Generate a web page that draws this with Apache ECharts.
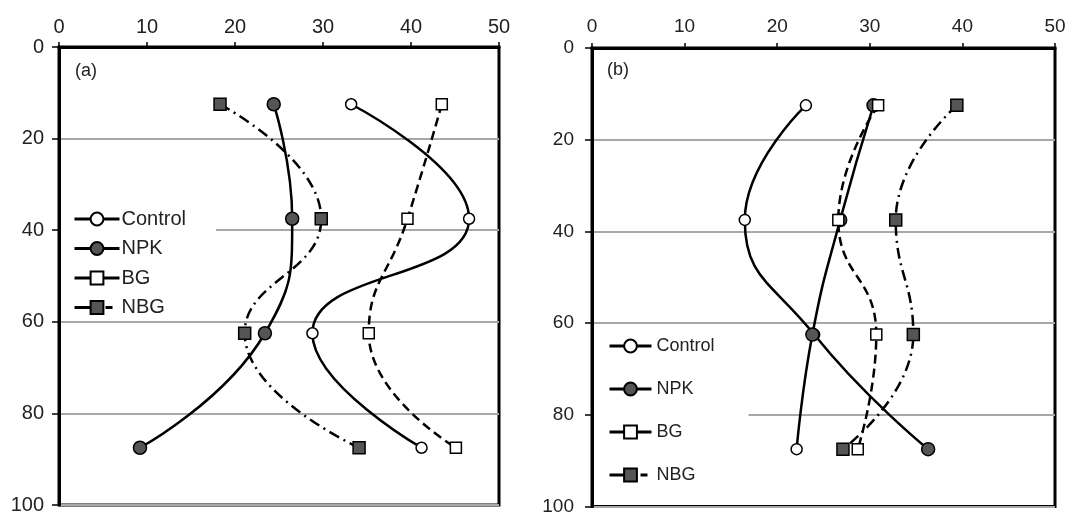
<!DOCTYPE html>
<html><head><meta charset="utf-8">
<script src="https://cdn.jsdelivr.net/npm/echarts@6/dist/echarts.min.js"></script>
<style>html,body{margin:0;padding:0;background:#fff}#c{width:1084px;height:516px}</style>
</head><body><div id="c"></div>
<script>
// depths (cm) and tick labels
const depths = [12.5, 37.5, 62.5, 87.5];
const xTicks = [0, 10, 20, 30, 40, 50];
const yTicks = [0, 20, 40, 60, 80, 100];
const seriesNames = ['Control', 'NPK', 'BG', 'NBG'];
// panel (a) values
const controlA = [33.2, 46.6, 28.8, 41.2];
const npkA     = [24.4, 26.5, 23.4, 9.2];
const bgA      = [43.5, 39.6, 35.2, 45.1];
const nbgA     = [18.3, 29.8, 21.1, 34.1];
// panel (b) values, in the order the drawn curves pass through them
const controlB = [23.1, 16.5, 24.0, 36.3];
const npkB     = [30.4, 26.8, 23.8, 22.1];
const bgB      = [30.9, 26.6, 30.7, 28.7];
const nbgB     = [39.4, 32.8, 34.7, 27.1];

const FONT = '"Liberation Sans", Arial, sans-serif';
const styles = {
  Control: {symbol: 'circle', size: 11, fill: '#fff', dash: 'solid', legendDash: 'solid'},
  NPK:     {symbol: 'circle', size: 13, fill: '#555', dash: 'solid', legendDash: 'solid'},
  BG:      {symbol: 'rect',   size: 11, fill: '#fff', dash: [9, 5], legendDash: 'solid'},
  NBG:     {symbol: 'rect',   size: 12, fill: '#555', dash: [11, 5, 2, 5], legendDash: [18, 13, 7, 20]}
};

function makeSeries(name, vals, idx, swapLast) {
  const st = styles[name];
  const data = vals.map((v, i) => {
    const item = {value: [v, depths[i]]};
    if (swapLast && i === vals.length - 1) {
      const other = styles[swapLast];
      item.itemStyle = {color: other.fill};
      item.symbolSize = other.size;
    }
    return item;
  });
  return {
    name: name, type: 'line', xAxisIndex: idx, yAxisIndex: idx,
    smooth: 0.5, data: data,
    symbol: st.symbol, symbolSize: st.size, showSymbol: true,
    lineStyle: {color: '#000', width: 2.5, type: st.dash},
    itemStyle: {color: st.fill, borderColor: '#000', borderWidth: 1.5},
    emphasis: {disabled: true}, z: 3
  };
}

function xAxis(idx, fs, margin) {
  return {
    type: 'value', gridIndex: idx, position: 'top', min: 0, max: 50, interval: 10,
    axisLine: {show: true, onZero: false, lineStyle: {color: '#000', width: 3}},
    axisTick: {show: true, length: 5, lineStyle: {color: '#000', width: 1.5}},
    axisLabel: {color: '#222', fontSize: fs, fontFamily: FONT, margin: margin,
      formatter: v => xTicks.includes(v) ? String(v) : ''},
    splitLine: {show: false}
  };
}
function yAxis(idx, fs, margin) {
  return {
    type: 'value', gridIndex: idx, inverse: true, min: 0, max: 100, interval: 20,
    axisLine: {show: true, onZero: false, lineStyle: {color: '#000', width: 3}},
    axisTick: {show: true, length: 7, lineStyle: {color: '#000', width: 1.5}},
    axisLabel: {color: '#222', fontSize: fs, fontFamily: FONT, margin: margin,
      formatter: v => yTicks.includes(v) ? String(v) : ''},
    splitLine: {show: true, lineStyle: {color: '#a8a8a8', width: 2}}
  };
}

function legendData() {
  return seriesNames.map(n => ({name: n, lineStyle: {type: styles[n].legendDash, width: 3}}));
}

const chart = echarts.init(document.getElementById('c'), null, {renderer: 'canvas'});
chart.setOption({
  backgroundColor: '#fff',
  animation: false,
  grid: [
    {left: 59, top: 47, width: 440, height: 458, show: true, borderColor: '#000', borderWidth: 3, backgroundColor: 'transparent'},
    {left: 592, top: 48, width: 463, height: 462, show: true, borderColor: '#000', borderWidth: 3, backgroundColor: 'transparent'}
  ],
  xAxis: [xAxis(0, 20, 10), xAxis(1, 19, 12)],
  yAxis: [yAxis(0, 20, 15), yAxis(1, 19, 18)],
  legend: [
    {data: legendData(), orient: 'vertical', left: 61, top: 207, itemGap: 9.5,
     itemWidth: 45, itemHeight: 16, padding: [2, 30, 0, 12],
     backgroundColor: '#fff', selectedMode: false,
     textStyle: {fontSize: 20, fontFamily: FONT, color: '#222', padding: [0, 0, 0, -3]}},
    {data: legendData(), orient: 'vertical', left: 594, top: 333, itemGap: 25,
     itemWidth: 42, itemHeight: 16, padding: [4, 34, 4, 14],
     backgroundColor: '#fff', selectedMode: false,
     textStyle: {fontSize: 18, fontFamily: FONT, color: '#222'}}
  ],
  graphic: [
    {type: 'text', left: 75, top: 62, style: {text: '(a)', font: '18px ' + FONT, fill: '#222'}},
    {type: 'text', left: 607, top: 61, style: {text: '(b)', font: '18px ' + FONT, fill: '#222'}}
  ],
  series: [
    makeSeries('Control', controlA, 0),
    makeSeries('NPK', npkA, 0),
    makeSeries('BG', bgA, 0),
    makeSeries('NBG', nbgA, 0),
    makeSeries('Control', controlB, 1, 'NPK'),
    makeSeries('NPK', npkB, 1, 'Control'),
    makeSeries('BG', bgB, 1),
    makeSeries('NBG', nbgB, 1)
  ]
});
</script></body></html>
